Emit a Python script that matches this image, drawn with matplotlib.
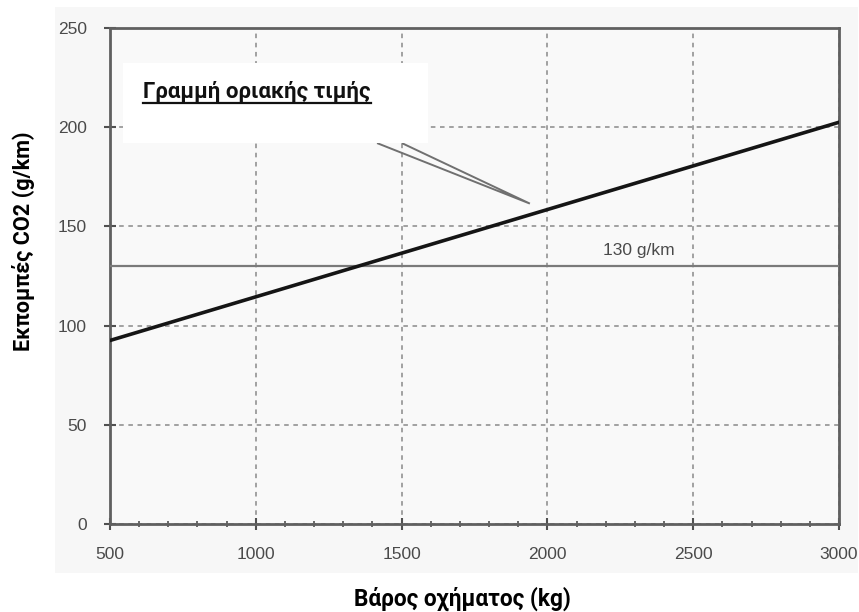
import matplotlib
matplotlib.use("Agg")
import matplotlib.pyplot as plt
from matplotlib.patches import Rectangle, Polygon
from matplotlib.lines import Line2D
from matplotlib.ticker import MultipleLocator

# data
weight_kg = [500, 1000, 1500, 2000, 2500, 3000]
limit_co2 = [92.5, 114.5, 136.5, 158.5, 180.5, 202.5]
target_co2 = 130
target_label = "130 g/km"
callout_text = "Γραμμή οριακής τιμής"
xlabel = "Βάρος οχήματος (kg)"
ylabel = "Εκπομπές CO2 (g/km)"
xticks = [500, 1000, 1500, 2000, 2500, 3000]
yticks = [0, 50, 100, 150, 200, 250]

fig = plt.figure(figsize=(8.59, 6.12), dpi=100)
fig.patch.set_facecolor("white")

# light grey panel behind the chart
fig.patches.append(Rectangle((55 / 859, 1 - 573 / 612), (858 - 55) / 859, (573 - 7) / 612,
                             transform=fig.transFigure, facecolor="#f7f7f7",
                             edgecolor="none", zorder=-5))

ax = fig.add_axes([0.128, 0.1438, 0.8487, 0.8104])
ax.set_facecolor("#f9f9f9")
ax.set_xlim(500, 3000)
ax.set_ylim(0, 250)
ax.set_xticks(xticks)
ax.set_yticks(yticks)
ax.xaxis.set_minor_locator(MultipleLocator(100))
ax.grid(True, which="major", color="#8a8a8a", linestyle=(0, (3, 3)), linewidth=1.1)

for s in ax.spines.values():
    s.set_color("#606060")
    s.set_linewidth(2)

ax.tick_params(which="major", direction="inout", length=9, width=1.5, color="#505050",
               labelsize=12.5, labelcolor="#4a4a4a")
ax.tick_params(which="minor", direction="inout", length=5, width=1.2, color="#505050")
for lab in ax.get_xticklabels() + ax.get_yticklabels():
    lab.set_family("Liberation Sans")
ax.tick_params(axis="x", pad=12)
ax.tick_params(axis="y", pad=12)

# limit value line and the 130 g/km target
ax.plot(weight_kg, limit_co2, color="#151515", linewidth=2.6, zorder=4)
ax.axhline(target_co2, color="#7a7a7a", linewidth=1.6, zorder=3)
ax.text(2190, 138, target_label, ha="left", va="center",
        fontsize=12.5, color="#4a4a4a", family="Liberation Sans")

# callout box with its wedge
ax.add_patch(Polygon([[1416, 192], [1940, 161.5], [1501, 192]], closed=False,
                     facecolor="none", edgecolor="#707070", linewidth=1.4, zorder=5))
fig.patches.append(Rectangle((123 / 859, 1 - 143 / 612), (428 - 123) / 859, (143 - 63) / 612,
                             transform=fig.transFigure, facecolor="white",
                             edgecolor="none", zorder=6))
t = fig.text(143 / 859, 1 - 92 / 612, callout_text, ha="left", va="center",
             fontsize=16, fontweight="bold", family="Roboto", color="#111111", zorder=7)

fig.text(462 / 859, 1 - 599 / 612, xlabel, ha="center", va="center", fontsize=16.3,
         fontweight="bold", family="Roboto")
fig.text(24 / 859, 1 - 241 / 612, ylabel, ha="center", va="center", rotation=90,
         fontsize=15.6, fontweight="bold", family="Roboto")

# underline the callout title
fig.canvas.draw()
bb = t.get_window_extent()
uy = fig.bbox.height - 103
fig.lines.append(Line2D([bb.x0, bb.x1], [uy, uy], transform=None, color="#111111",
                        linewidth=1.6, zorder=8))

fig.savefig("out.png", dpi=100)
